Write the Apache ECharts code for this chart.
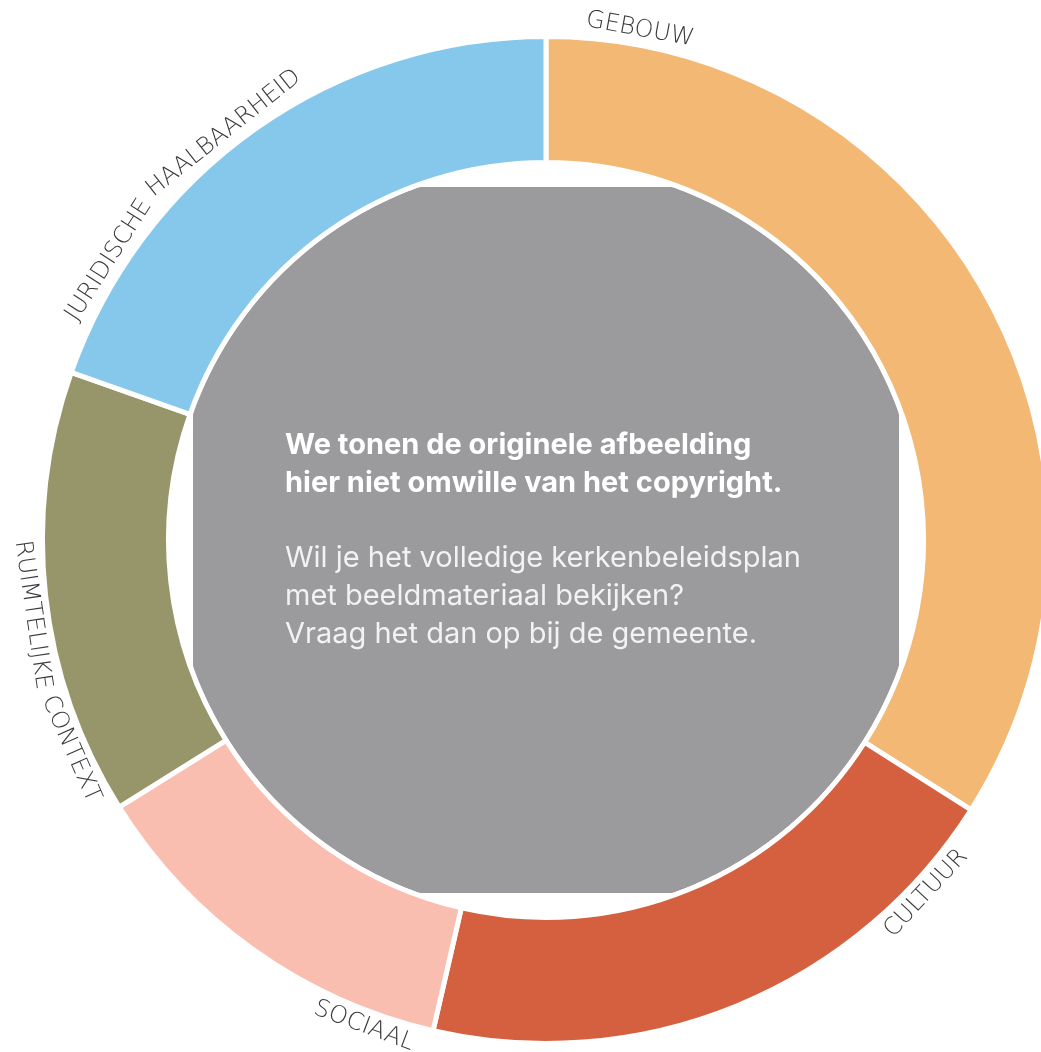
<!DOCTYPE html>
<html>
<head>
<meta charset="utf-8">
<script src="https://cdn.jsdelivr.net/npm/echarts@6/dist/echarts.min.js"></script>
<style>
html,body{margin:0;padding:0;background:#fff;}
#chart{width:1041px;height:1052px;}
</style>
</head>
<body>
<div id="chart"></div>
<script>
// ---- data ----
const categories = ['GEBOUW', 'CULTUUR', 'SOCIAAL', 'RUIMTELIJKE CONTEXT', 'JURIDISCHE HAALBAARHEID'];
const values = [34.0, 19.6, 12.5, 14.3, 19.6];
const centerTitleLines = ['We tonen de originele afbeelding', 'hier niet omwille van het copyright.'];
const centerBodyLines = ['Wil je het volledige kerkenbeleidsplan', 'met beeldmateriaal bekijken?', 'Vraag het dan op bij de gemeente.'];

// ---- style / layout ----
const palette = ['#F2B874', '#D5603F', '#FABEB0', '#97966B', '#85C8EC'];
const labelGapDeg = [4.4, 4.4, 1.8, 2.0, 5.5];
const CX = 546, CY = 540;
const LABEL_R = 519;
const LABEL_FONT = '200 24px "DejaVu Sans"';

const chart = echarts.init(document.getElementById('chart'), null, {renderer: 'canvas'});

const ctx = document.createElement('canvas').getContext('2d');
function measure(t, font) { ctx.font = font; return ctx.measureText(t).width; }

function labelElements() {
  const els = [];
  const total = values.reduce((a, b) => a + b, 0);
  let cum = 0;
  categories.forEach((name, i) => {
    const start = cum / total * 360;
    cum += values[i];
    const words = name.split(' ');
    const spaceW = measure(' ', LABEL_FONT);
    const widths = words.map(w => measure(w, LABEL_FONT));
    const totalW = widths.reduce((a, b) => a + b, 0) + spaceW * (words.length - 1);
    const spanDeg = totalW / LABEL_R * 180 / Math.PI;
    const a0 = start + labelGapDeg[i];
    const mid = a0 + spanDeg / 2;
    const lower = mid > 90 && mid < 270;
    let off = 0;
    words.forEach((w, k) => {
      const c = off + widths[k] / 2;
      off += widths[k] + spaceW;
      const dDeg = c / LABEL_R * 180 / Math.PI;
      const angDeg = lower ? (a0 + spanDeg - dDeg) : (a0 + dDeg);
      const th = angDeg * Math.PI / 180;
      els.push({
        type: 'text',
        x: CX + LABEL_R * Math.sin(th),
        y: CY - LABEL_R * Math.cos(th),
        rotation: lower ? (Math.PI - th) : -th,
        silent: true,
        style: {
          text: w, font: LABEL_FONT, fill: '#3a3a3a',
          align: 'center', verticalAlign: 'middle',
          textAlign: 'center', textVerticalAlign: 'middle'
        }
      });
    });
  });
  return els;
}

function greyShape() {
  const pts = [];
  const r = 375, h = 353;
  for (let k = 0; k < 720; k++) {
    const t = k / 720 * Math.PI * 2;
    let x = CX + r * Math.cos(t), y = CY + r * Math.sin(t);
    x = Math.min(CX + h, Math.max(CX - h, x));
    y = Math.min(CY + h, Math.max(CY - h, y));
    pts.push([x, y]);
  }
  return {type: 'polygon', silent: true, z: -1, shape: {points: pts}, style: {fill: '#9b9a9c'}};
}

function centerText() {
  const els = [];
  const x0 = 285;
  const ys = [445, 483, 558, 596, 634];
  centerTitleLines.forEach((t, i) => els.push({
    type: 'text', x: x0, y: ys[i], silent: true,
    style: {text: t, font: 'bold 29px Inter', fill: '#ffffff', align: 'left', verticalAlign: 'middle', textAlign: 'left', textVerticalAlign: 'middle'}
  }));
  centerBodyLines.forEach((t, i) => els.push({
    type: 'text', x: x0, y: ys[i + 2], silent: true,
    style: {text: t, font: '29px Inter', fill: '#f2f2f2', align: 'left', verticalAlign: 'middle', textAlign: 'left', textVerticalAlign: 'middle'}
  }));
  return els;
}

chart.setOption({
  animation: false,
  series: [{
    type: 'pie',
    center: [CX, CY],
    radius: [377.5, 503.5],
    startAngle: 90,
    clockwise: true,
    silent: true,
    label: {show: false},
    labelLine: {show: false},
    itemStyle: {borderColor: '#ffffff', borderWidth: 5},
    data: categories.map((c, i) => ({name: c, value: values[i], itemStyle: {color: palette[i]}}))
  }],
  graphic: {elements: [greyShape()].concat(centerText(), labelElements())}
});
</script>
</body>
</html>
